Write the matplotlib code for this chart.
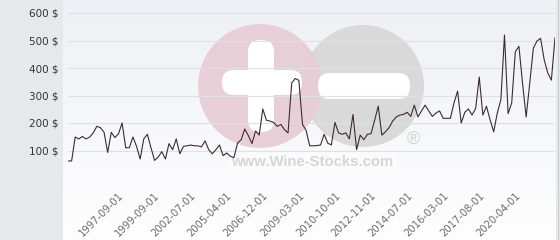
import numpy as np
import matplotlib
matplotlib.use("Agg")
import matplotlib.pyplot as plt
from matplotlib.patches import Circle, Rectangle, FancyBboxPatch
from matplotlib.colors import LinearSegmentedColormap

# price per auction (category axis, one point per sale)
prices = [
    62, 62, 149, 142, 151, 142, 149, 164, 188, 183,
    166, 93, 166, 147, 161, 200, 110, 110, 149, 115,
    69, 142, 159, 110, 64, 76, 96, 69, 125, 103,
    142, 88, 115, 117, 120, 117, 117, 113, 135, 103,
    88, 103, 120, 81, 91, 79, 74, 127, 139, 178,
    154, 125, 171, 156, 251, 210, 207, 202, 188, 195,
    176, 164, 345, 362, 355, 195, 173, 117, 117, 118,
    120, 159, 127, 120, 202, 164, 159, 164, 142, 231,
    103, 156, 139, 159, 161, 210, 261, 156, 168, 183,
    207, 222, 229, 231, 239, 224, 265, 222, 244, 265,
    244, 224, 236, 244, 217, 217, 217, 273, 316, 200,
    239, 251, 229, 253, 367, 229, 261, 212, 168, 236,
    285, 520, 234, 273, 459, 479, 345, 222, 345, 472,
    498, 508, 430, 382, 356, 510,
]

# dates shown on the x axis, every 10th sale starting at the 16th
date_labels = [
    "1997-09-01", "1999-09-01", "2002-07-01", "2005-04-01",
    "2006-12-01", "2009-03-01", "2010-10-01", "2012-11-01",
    "2014-07-01", "2016-03-01", "2017-08-01", "2020-04-01",
]
first_label = 15
label_step = 10

y_ticks = [0, 100, 200, 300, 400, 500, 600]
y_labels = ["", "100 $", "200 $", "300 $", "400 $", "500 $", "600 $"]

W, H = 560, 240
fig = plt.figure(figsize=(W / 100, H / 100), dpi=100)

# background layer in pixel coordinates
bg = fig.add_axes([0, 0, 1, 1], zorder=0)
bg.set_xlim(0, W)
bg.set_ylim(H, 0)
bg.axis("off")
cmap = LinearSegmentedColormap.from_list("bgfade", ["#eef0f5", "#fefefe"])
grad = np.linspace(0, 1, 256).reshape(-1, 1)
bg.imshow(grad, cmap=cmap, aspect="auto", extent=(63, 556, H, 0))
bg.add_patch(Rectangle((0, 0), 63, H, color="#e6e9ec", lw=0))
bg.add_patch(Rectangle((556, 0), 4, H, color="#e6e9ec", lw=0))
bg.plot([558, 558], [0, H], color="#c9ccd1", lw=0.8)

# watermark
bg.add_patch(Circle((363, 86), 61, color="#d9d9d9", lw=0))
bg.add_patch(Circle((260, 86), 62, color="#e8cdd6", lw=0, alpha=0.95))
bg.add_patch(FancyBboxPatch((222, 70), 80, 25, boxstyle="round,pad=0,rounding_size=12",
                            color="white", lw=0))
bg.add_patch(FancyBboxPatch((248, 40), 26, 92, boxstyle="round,pad=0,rounding_size=12",
                            color="white", lw=0))
bg.add_patch(FancyBboxPatch((318, 73), 92, 26, boxstyle="round,pad=0,rounding_size=12",
                            color="white", lw=0))
bg.add_patch(Rectangle((228, 152), 168, 20, color="white", lw=0, alpha=0.45))
bg.text(312, 162, "www.Wine-Stocks.com", family="Liberation Sans", weight="bold",
        fontsize=10.7, color="#d6d6d6", ha="center", va="center")
bg.text(413, 139, "\u00ae", family="Liberation Sans", fontsize=13,
        color="#d4d4d4", ha="center", va="center")

# main chart
ax = fig.add_axes([68 / W, 1 - 178 / H, (555 - 68) / W, (178 - 13) / H], zorder=1)
ax.patch.set_alpha(0)
x = np.arange(len(prices))
ax.plot(x, prices, color="#3d2b33", lw=0.8)
ax.set_xlim(0, len(prices) - 1)
ax.set_ylim(0, 600)

ax.set_yticks(y_ticks)
ax.set_yticklabels(y_labels, fontsize=7.5, color="#333333")
ax.yaxis.grid(True, color="#dfe0e3", lw=0.8)
ax.set_axisbelow(True)

tick_pos = [first_label + label_step * i for i in range(len(date_labels))]
ax.set_xticks(tick_pos)
ax.set_xticklabels(date_labels, fontsize=7.2, color="#6b6b6b", rotation=45,
                   ha="right", va="center", rotation_mode="anchor")
ax.tick_params(axis="y", length=0, pad=6.5)
ax.tick_params(axis="x", length=0, pad=11.5)
for s in ax.spines.values():
    s.set_visible(False)

fig.savefig("out.png", dpi=100)
